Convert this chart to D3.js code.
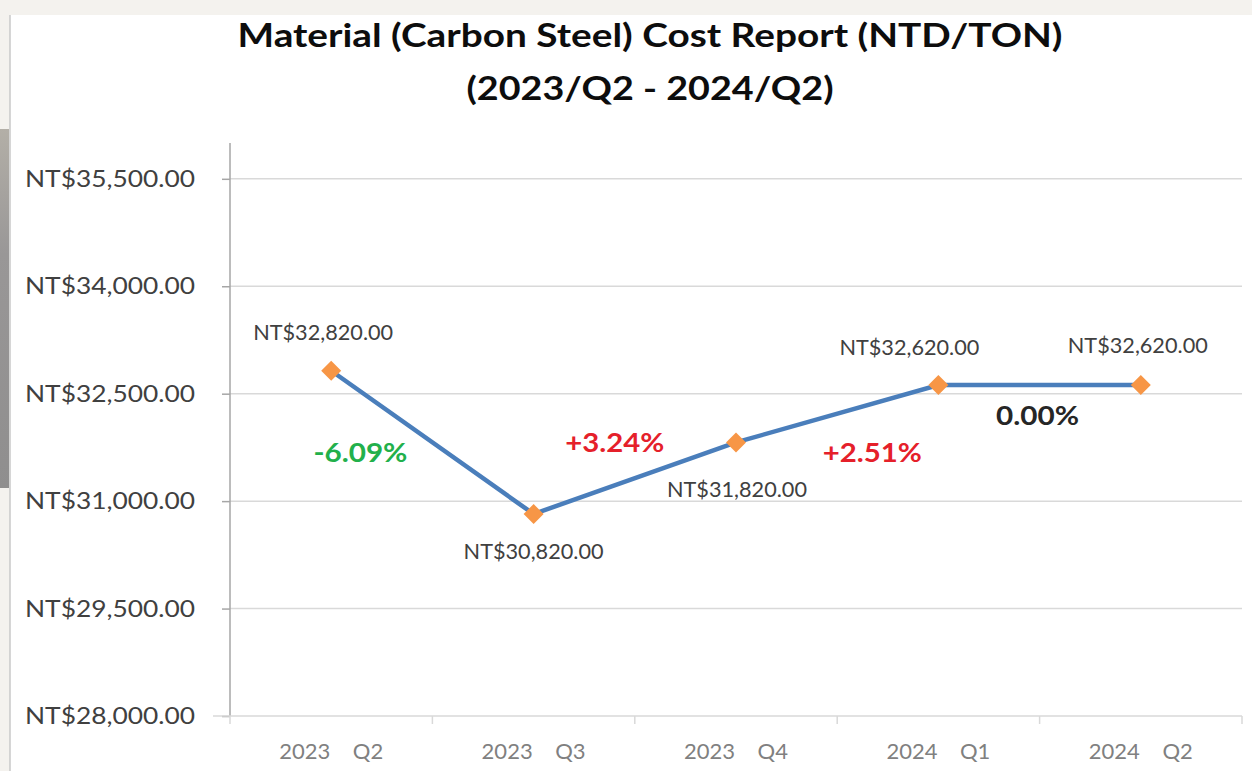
<!DOCTYPE html>
<html>
<head>
<meta charset="utf-8">
<script src="https://cdn.jsdelivr.net/npm/d3@7"></script>
<style>
  html, body { margin: 0; padding: 0; background: #f4f2ee; }
  svg { display: block; }
</style>
</head>
<body>
<svg id="chart" width="1252" height="771"></svg>
<script>
const categories = ["2023    Q2", "2023    Q3", "2023    Q4", "2024    Q1", "2024    Q2"];
const costValues = [32820, 30820, 31820, 32620, 32620];
const costLabels = ["NT$32,820.00", "NT$30,820.00", "NT$31,820.00", "NT$32,620.00", "NT$32,620.00"];
const changeLabels = ["-6.09%", "+3.24%", "+2.51%", "0.00%"];
const changeColors = ["#22b04b", "#e5202a", "#e5202a", "#262626"];
const yTicks = [28000, 29500, 31000, 32500, 34000, 35500];
const yTickLabels = ["NT$28,000.00", "NT$29,500.00", "NT$31,000.00", "NT$32,500.00", "NT$34,000.00", "NT$35,500.00"];
const titleLines = ["Material (Carbon Steel) Cost Report (NTD/TON)", "(2023/Q2 - 2024/Q2)"];

const svg = d3.select("#chart");
const W = 1252, H = 771;
const font = "Lato, 'Open Sans', sans-serif";

// background artifacts of the screenshot
svg.append("rect").attr("x", 0).attr("y", 0).attr("width", W).attr("height", H).attr("fill", "#f4f2ee");
svg.append("rect").attr("x", 10).attr("y", 15).attr("width", W - 10).attr("height", H - 15).attr("fill", "#ffffff");
const grad = svg.append("defs").append("linearGradient").attr("id", "lg").attr("x1", 0).attr("y1", 0).attr("x2", 0).attr("y2", 1);
grad.append("stop").attr("offset", "0%").attr("stop-color", "#b3afa7");
grad.append("stop").attr("offset", "35%").attr("stop-color", "#999797");
grad.append("stop").attr("offset", "100%").attr("stop-color", "#8f8e8e");
svg.append("rect").attr("x", 0).attr("y", 129).attr("width", 9).attr("height", 359).attr("fill", "url(#lg)");
svg.append("line").attr("x1", 10).attr("x2", 10).attr("y1", 15).attr("y2", H).attr("stroke", "#c8c8c8").attr("stroke-width", 1.5);

const x = d3.scaleBand().domain(categories).range([230, 1242]);
const y = d3.scaleLinear().domain([28000, 36000]).range([716, 143]);

// title
const titleWidths = [825, 367];
svg.append("g").selectAll("text").data(titleLines).join("text")
  .attr("x", 650).attr("y", (d, i) => 47 + i * 53)
  .attr("text-anchor", "middle")
  .attr("font-family", font).attr("font-weight", "bold").attr("font-size", 33)
  .attr("textLength", (d, i) => titleWidths[i]).attr("lengthAdjust", "spacingAndGlyphs")
  .attr("fill", "#0d0d0d")
  .text(d => d);

// gridlines
svg.append("g").selectAll("line").data(yTicks.slice(1)).join("line")
  .attr("x1", 230).attr("x2", 1242)
  .attr("y1", d => y(d)).attr("y2", d => y(d))
  .attr("stroke", "#d9d9d9").attr("stroke-width", 1.5);

// y axis
const yAxis = d3.axisLeft(y).tickValues(yTicks).tickSize(8).tickPadding(27)
  .tickFormat((d, i) => yTickLabels[i]);
const gy = svg.append("g").attr("transform", "translate(230,0)").call(yAxis);
gy.select(".domain").attr("stroke", "#a6a6a6").attr("stroke-width", 1.5).attr("d", `M0,${y(36000)}V${y(28000)}`);
gy.selectAll(".tick line").attr("stroke", "#a6a6a6").attr("stroke-width", 1.5);
gy.selectAll(".tick text").attr("font-family", font).attr("font-size", 24).attr("fill", "#404040")
  .attr("textLength", 170).attr("lengthAdjust", "spacingAndGlyphs");

// x axis
const xAxis = d3.axisBottom(x).tickSize(0).tickPadding(24);
const gx = svg.append("g").attr("transform", `translate(0,${y(28000)})`).call(xAxis);
gx.select(".domain").attr("stroke", "#d9d9d9").attr("stroke-width", 1.5).attr("d", "M213,0H1242");
gx.selectAll(".tick text").attr("font-family", font).attr("font-size", 22).attr("fill", "#808080")
  .attr("y", 43).attr("dy", 0)
  .attr("xml:space", "preserve").style("white-space", "pre")
  .attr("textLength", 104).attr("lengthAdjust", "spacingAndGlyphs");
const bounds = x.domain().map(d => x(d)).concat([1242]);
gx.append("g").selectAll("line").data(bounds).join("line")
  .attr("x1", d => d).attr("x2", d => d).attr("y1", 0).attr("y2", 8)
  .attr("stroke", "#d9d9d9").attr("stroke-width", 1.5);

const cx = d => x(d) + x.bandwidth() / 2;
const pts = categories.map((c, i) => ({c, v: costValues[i], label: costLabels[i]}));

// line
svg.append("path").datum(pts)
  .attr("d", d3.line().x(d => cx(d.c)).y(d => y(d.v)))
  .attr("fill", "none").attr("stroke", "#4a7ebb").attr("stroke-width", 4.5);

// markers
svg.append("g").selectAll("path").data(pts).join("path")
  .attr("d", d3.symbol().type(d3.symbolSquare).size(200))
  .attr("transform", d => `translate(${cx(d.c)},${y(d.v)}) rotate(45)`)
  .attr("fill", "#f79646");

// data labels (offsets relative to points)
const labelOffsets = [[-8, -31], [0, 45], [1, 55], [-29, -30], [-3, -32]];
svg.append("g").selectAll("text").data(pts).join("text")
  .attr("x", (d, i) => cx(d.c) + labelOffsets[i][0])
  .attr("y", (d, i) => y(d.v) + labelOffsets[i][1])
  .attr("text-anchor", "middle")
  .attr("font-family", font).attr("font-size", 22).attr("fill", "#404040")
  .attr("textLength", 140).attr("lengthAdjust", "spacingAndGlyphs")
  .text(d => d.label);

// change labels between points
const changeOffsets = [[-72, 20], [-20, -26], [35, 48], [-2, 40]];
const changeWidths = [94, 99, 99, 83];
svg.append("g").selectAll("text").data(changeLabels).join("text")
  .attr("x", (d, i) => (cx(categories[i]) + cx(categories[i + 1])) / 2 + changeOffsets[i][0])
  .attr("y", (d, i) => (y(costValues[i]) + y(costValues[i + 1])) / 2 + changeOffsets[i][1])
  .attr("text-anchor", "middle")
  .attr("font-family", font).attr("font-weight", "bold").attr("font-size", 27)
  .attr("textLength", (d, i) => changeWidths[i]).attr("lengthAdjust", "spacingAndGlyphs")
  .attr("fill", (d, i) => changeColors[i])
  .text(d => d);
</script>
</body>
</html>
